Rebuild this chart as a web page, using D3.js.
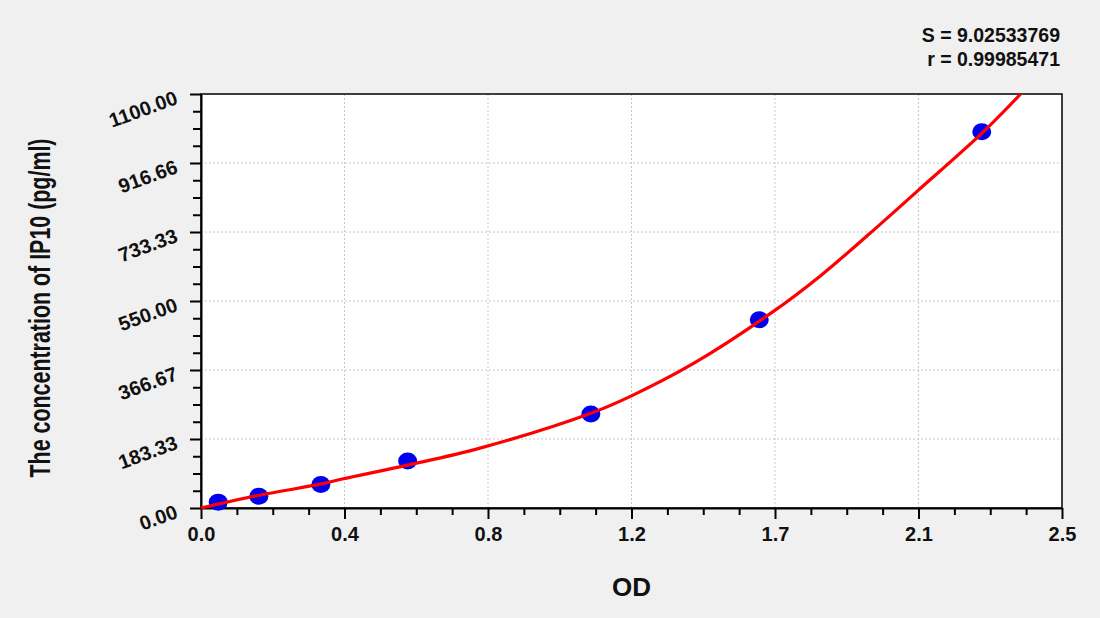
<!DOCTYPE html>
<html>
<head>
<meta charset="utf-8">
<script src="https://cdn.jsdelivr.net/npm/d3@7"></script>
<style>
  body { margin: 0; background: #f0f0f0; }
  svg { display: block; font-family: "Liberation Sans", Arial, sans-serif; font-weight: bold; }
</style>
</head>
<body>
<script>
//standard points: OD reading and concentration
var standardOD = [0.050, 0.168, 0.348, 0.600, 1.132, 1.621, 2.267];
var standardConc = [15.6, 31.25, 62.5, 125, 250, 500, 1000];

//fitted curve
var curveOD = [0, 0.17, 0.35, 0.41, 0.60, 0.81, 1.13, 1.25, 1.43, 1.66, 1.80, 1.94, 2.08, 2.27, 2.38];
var curveConc = [0, 34, 64, 77, 114, 159, 251, 298, 384, 521, 618, 728, 842, 998, 1100];

//tick labels
var xTicks = [0, 0.4167, 0.8333, 1.25, 1.6667, 2.0833, 2.5];
var xTickLabels = ["0.0", "0.4", "0.8", "1.2", "1.7", "2.1", "2.5"];
var yTicks = [0, 183.33, 366.67, 550, 733.33, 916.66, 1100];
var yTickLabels = ["0.00", "183.33", "366.67", "550.00", "733.33", "916.66", "1100.00"];

var fitStats = ["S = 9.02533769", "r = 0.99985471"];

window.onload = drawChart();

function drawChart(){
    var width = 1100,
        height = 618;
    var margin = {left: 201, right: 38, top: 94, bottom: 110};
    var plotW = width - margin.left - margin.right,
        plotH = height - margin.top - margin.bottom;

    var svg = d3.select("body")
        .append("svg")
        .attr("width", width)
        .attr("height", height);

    svg.append("rect")
        .attr("width", width)
        .attr("height", height)
        .attr("fill", "#f0f0f0");

    var x = d3.scaleLinear().domain([0, 2.5]).range([0, plotW]);
    var y = d3.scaleLinear().domain([0, 1100]).range([plotH, 0]);

    var g = svg.append("g")
        .attr("transform", "translate(" + margin.left + "," + margin.top + ")");

    //plot background
    g.append("rect")
        .attr("width", plotW)
        .attr("height", plotH)
        .attr("fill", "#ffffff");

    //dotted grid
    g.selectAll(".vgrid")
        .data(xTicks.slice(1, -1))
        .enter()
        .append("line")
        .attr("x1", function(d){ return x(d); })
        .attr("x2", function(d){ return x(d); })
        .attr("y1", 0)
        .attr("y2", plotH)
        .attr("stroke", "#c8c8c8")
        .attr("stroke-dasharray", "2,2");

    g.selectAll(".hgrid")
        .data(yTicks.slice(1, -1))
        .enter()
        .append("line")
        .attr("y1", function(d){ return y(d); })
        .attr("y2", function(d){ return y(d); })
        .attr("x1", 0)
        .attr("x2", plotW)
        .attr("stroke", "#c8c8c8")
        .attr("stroke-dasharray", "2,2");

    //minor ticks (4 divisions per major interval)
    var xMinor = [], yMinor = [];
    for (var i = 0; i < xTicks.length - 1; i++){
        for (var k = 1; k < 4; k++){
            xMinor.push(xTicks[i] + (xTicks[i + 1] - xTicks[i]) * k / 4);
            yMinor.push(yTicks[i] + (yTicks[i + 1] - yTicks[i]) * k / 4);
        }
    }

    //x axis
    var xAxis = g.append("g")
        .attr("transform", "translate(0," + plotH + ")")
        .call(d3.axisBottom(x).tickValues(xTicks)
            .tickFormat(function(d, i){ return xTickLabels[i]; })
            .tickSize(11).tickPadding(8).tickSizeOuter(0));
    xAxis.selectAll(".tick text")
        .attr("font-size", 20)
        .attr("font-weight", "bold")
        .attr("font-family", "Liberation Sans, Arial, sans-serif")
        .attr("fill", "#111");
    xAxis.select(".domain").attr("stroke-width", 2);
    xAxis.selectAll(".tick line").attr("stroke-width", 2);

    g.append("g")
        .attr("transform", "translate(0," + plotH + ")")
        .call(d3.axisBottom(x).tickValues(xMinor).tickSize(7).tickFormat(""))
        .call(function(s){ s.select(".domain").remove(); })
        .selectAll(".tick line").attr("stroke-width", 2);

    //y axis
    var yAxis = g.append("g")
        .call(d3.axisLeft(y).tickValues(yTicks)
            .tickFormat(function(d, i){ return yTickLabels[i]; })
            .tickSize(11).tickSizeOuter(0));
    yAxis.selectAll(".tick text")
        .attr("font-size", 20)
        .attr("font-weight", "bold")
        .attr("font-family", "Liberation Sans, Arial, sans-serif")
        .attr("fill", "#111")
        .attr("x", null)
        .attr("dy", null)
        .attr("text-anchor", "end")
        .attr("transform", "translate(-22,9) rotate(-20)");
    yAxis.select(".domain").attr("stroke-width", 2);
    yAxis.selectAll(".tick line").attr("stroke-width", 2);

    g.append("g")
        .call(d3.axisLeft(y).tickValues(yMinor).tickSize(8).tickFormat(""))
        .call(function(s){ s.select(".domain").remove(); })
        .selectAll(".tick line").attr("stroke-width", 2);

    //frame
    g.append("rect")
        .attr("width", plotW)
        .attr("height", plotH)
        .attr("fill", "none")
        .attr("stroke", "#000")
        .attr("stroke-width", 1.5);

    //fitted curve
    var curveData = curveOD.map(function(d, i){ return [d, curveConc[i]]; });
    var line = d3.line()
        .x(function(d){ return x(d[0]); })
        .y(function(d){ return y(d[1]); })
        .curve(d3.curveCatmullRom.alpha(0.5));

    //standards
    g.selectAll(".point")
        .data(standardOD)
        .enter()
        .append("ellipse")
        .attr("cx", function(d){ return x(d); })
        .attr("cy", function(d, i){ return y(standardConc[i]); })
        .attr("rx", 9.5)
        .attr("ry", 8.5)
        .attr("fill", "#0000ee");

    g.append("path")
        .datum(curveData)
        .attr("d", line)
        .attr("fill", "none")
        .attr("stroke", "#ff0000")
        .attr("stroke-width", 3.2);

    //axis titles
    svg.append("text")
        .attr("x", margin.left + plotW / 2)
        .attr("y", 596)
        .attr("text-anchor", "middle")
        .attr("font-size", 26)
        .attr("fill", "#111")
        .text("OD");

    svg.append("text")
        .attr("transform", "translate(50,308) rotate(-90)")
        .attr("text-anchor", "middle")
        .attr("font-size", 30)
        .attr("textLength", 339)
        .attr("lengthAdjust", "spacingAndGlyphs")
        .attr("fill", "#111")
        .text("The concentration of IP10 (pg/ml)");

    //fit statistics
    svg.selectAll(".stat")
        .data(fitStats)
        .enter()
        .append("text")
        .attr("x", 1060)
        .attr("y", function(d, i){ return 42 + i * 24; })
        .attr("text-anchor", "end")
        .attr("font-size", 19.5)
        .attr("fill", "#111")
        .text(function(d){ return d; });
};
</script>
</body>
</html>
